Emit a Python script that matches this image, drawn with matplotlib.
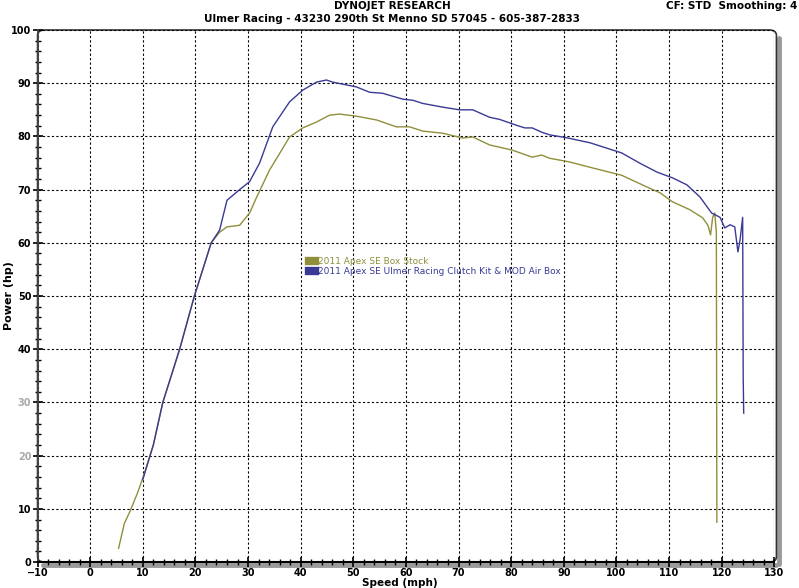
import matplotlib.pyplot as plt
import numpy as np
from matplotlib.patches import FancyBboxPatch

# ------- dyno run data (speed mph, power hp) -------
stock_x = [5.4, 6.5, 7.5, 9, 10, 12, 13.8, 17, 19.8, 23, 24.6, 26, 28.4, 30.3, 31.6,
           34.1, 37.9, 40.4, 43, 45.5, 47.4, 50.6, 54.4, 58.2, 60.7, 63.2, 67, 70.8,
           72.7, 75.9, 80.3, 84, 85.8, 87.3, 91.1, 95, 101, 105.8, 108.3, 110.7, 114,
           116.4, 117.4, 117.9, 118.3, 118.7, 119.0, 119.1]
stock_y = [2.6, 7.3, 9.4, 13, 15.8, 22, 30, 40, 50, 60, 62, 63, 63.3, 65.6, 68.5,
           73.7, 79.9, 81.6, 82.7, 84, 84.2, 83.8, 83.1, 81.8, 81.8, 81, 80.6, 79.7,
           79.9, 78.4, 77.4, 76.1, 76.5, 75.9, 75.2, 74.2, 72.7, 70.5, 69.4, 67.7, 66.2,
           64.7, 63.3, 61.5, 64.8, 65.6, 62, 7.5]

mod_x = [10, 12, 13.8, 17, 19.8, 23, 24.6, 26, 28.4, 30.3, 32.2, 34.7, 37.9, 40.4, 43,
         44.9, 46.1, 50.6, 53.1, 55.6, 59.4, 61.3, 63.2, 67, 70.2, 72.7, 75.9, 77.8,
         81, 82.6, 84, 85.8, 87.3, 90.8, 95, 101, 104.4, 107.7, 110.7, 113.4, 115.9,
         118.1, 119.7, 120.6, 121.6, 122.5, 123.1, 123.5, 124.0, 124.1, 124.2]
mod_y = [15.5, 22, 30, 40, 50, 60, 62.4, 68, 70, 71.5, 75, 81.8, 86.5, 88.7, 90.2,
         90.6, 90.2, 89.3, 88.3, 88.1, 87, 86.8, 86.2, 85.5, 85, 85, 83.6, 83.2,
         82.1, 81.6, 81.6, 80.8, 80.3, 79.7, 78.8, 76.9, 75, 73.3, 72.2, 70.9, 68.6,
         65.6, 64.8, 62.8, 63.4, 63, 58.3, 60.5, 64.8, 35, 28]

labels = ['2011 Apex SE Box Stock',
          '2011 Apex SE Ulmer Racing Clutch Kit & MOD Air Box']
stock_color = '#8f8f3c'
mod_color = '#3a3a96'

fig = plt.figure(figsize=(7.99, 5.88), dpi=100)
ax = fig.add_axes([0.047, 0.044, 0.922, 0.905])

ax.plot(stock_x, stock_y, color=stock_color, lw=1.0, label=labels[0])
ax.plot(mod_x, mod_y, color=mod_color, lw=1.0, label=labels[1])

ax.set_xlim(-10, 130)
ax.set_ylim(0, 100)
ax.set_xticks(np.arange(-10, 131, 10))
ax.set_yticks(np.arange(0, 101, 10))
ax.set_xticks(np.arange(-10, 131, 2), minor=True)
ax.set_yticks(np.arange(0, 101, 2), minor=True)
ax.tick_params(which='major', direction='inout', length=7, width=1.2,
               labelsize=7, pad=1)
ax.tick_params(which='minor', direction='inout', length=5, width=1)
for t in ax.get_xticklabels() + ax.get_yticklabels():
    t.set_fontweight('bold')
for t in ax.get_yticklabels():
    if t.get_text() in ('20', '30'):
        t.set_color('#aaaaaa')

ax.grid(True, which='major', color='black', linestyle=(0, (2, 2)), lw=0.8)

for s in ['top', 'right']:
    ax.spines[s].set_visible(False)
ax.spines['left'].set_linewidth(1.3)
ax.spines['left'].set_color('#444444')
ax.spines['bottom'].set_linewidth(1.5)

# grey shadow on bottom and right, then rounded frame
ax.plot([0.008, 1.002], [-0.006, -0.006], transform=ax.transAxes, color='#9a9a9a',
        lw=3.5, clip_on=False, zorder=0, solid_capstyle='round')
ax.plot([1.006, 1.006], [-0.004, 0.985], transform=ax.transAxes, color='#9a9a9a',
        lw=3.5, clip_on=False, zorder=0, solid_capstyle='round')
ax.add_patch(FancyBboxPatch((0, 0), 1.003, 1.0, transform=ax.transAxes,
                            boxstyle='round,pad=0,rounding_size=0.01',
                            fill=False, ec='#333333', lw=1.2, clip_on=False, zorder=1))

fig.text(0.5, 0.009, 'Speed (mph)', ha='center', va='center',
         fontsize=7.5, fontweight='bold')
fig.text(0.011, 0.497, 'Power (hp)', ha='center', va='center', rotation=90,
         fontsize=8, fontweight='bold')

leg = ax.legend(loc='upper left', bbox_to_anchor=(0.363, 0.582), frameon=False,
                fontsize=6.5, handlelength=0.6, handleheight=0.8,
                handletextpad=0.3, labelspacing=0.1, borderpad=0)
for h in leg.legend_handles:
    h.set_linewidth(6)
for txt, c in zip(leg.get_texts(), [stock_color, mod_color]):
    txt.set_color(c)

fig.text(0.491, 0.99, 'DYNOJET RESEARCH', ha='center', va='center',
         fontsize=7.5, fontweight='bold')
fig.text(0.491, 0.967, 'Ulmer Racing - 43230 290th St Menno SD 57045 - 605-387-2833',
         ha='center', va='center', fontsize=7.5, fontweight='bold')
fig.text(0.998, 0.99, 'CF: STD  Smoothing: 4', ha='right', va='center',
         fontsize=7.5, fontweight='bold')

plt.savefig('out.png', dpi=100)
